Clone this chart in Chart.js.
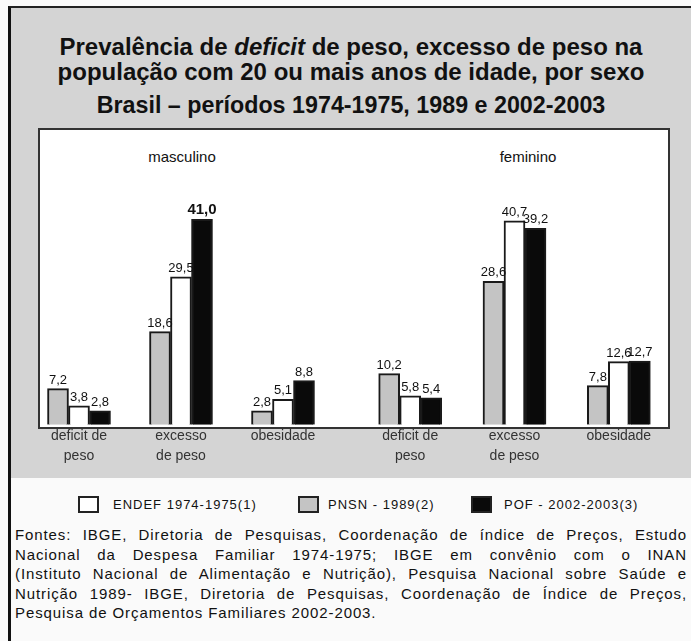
<!DOCTYPE html>
<html lang="pt">
<head>
<meta charset="utf-8">
<title>Prevalência de deficit de peso, excesso de peso e obesidade</title>
<script src="https://cdn.jsdelivr.net/npm/chart.js@4.4.1/dist/chart.umd.min.js"></script>
<style>
  body { margin: 0; width: 691px; height: 641px; background: #fafafa; position: relative; overflow: hidden;
         font-family: "Liberation Sans", Arial, sans-serif; color: #111; }
  .frame { position: absolute; left: 8px; top: 6px; right: 0; bottom: 0; border-left: 3px solid #111; border-top: 2px solid #222; }
  .gray { position: absolute; left: 0; top: 0; right: 0; height: 470px; background: #d4d4d4; }
  .title { position: absolute; left: 0; width: 702px; text-align: center; font-weight: bold; font-size: 24px;
           line-height: 26px; }
  .panel { position: absolute; left: 38px; top: 128px; width: 632px; height: 301px; box-sizing: border-box;
           background: #fff; border: 2px solid #333; }
  .chartbox { position: absolute; top: 124px; }
  .sexo { position: absolute; top: 148px; font-size: 15px; transform: translateX(-50%); }
  .leg { position: absolute; top: 496px; height: 17px; font-size: 13px; letter-spacing: 1px; line-height: 17px; }
  .leg i { position: absolute; left: 0; top: 0; width: 17px; height: 13px; border: 2px solid #222; }
  .leg span { position: absolute; white-space: nowrap; }
  .fontes { position: absolute; left: 15px; top: 525px; width: 672px; font-size: 15px; line-height: 19.5px; letter-spacing: 0.9px; }
  .fontes div { text-align: justify; text-align-last: justify; white-space: nowrap; }
  .fontes div:last-child { text-align-last: left; }
</style>
</head>
<body>
<div class="frame"><div class="gray"></div></div>

<div class="title" style="top:34px">Prevalência de <i>deficit</i> de peso, excesso de peso na</div>
<div class="title" style="top:59px">população com 20 ou mais anos de idade, por sexo</div>
<div class="title" style="top:92px; transform: scaleX(0.97)">Brasil – períodos 1974-1975, 1989 e 2002-2003</div>

<div class="panel"></div>
<div class="sexo" style="left:182px">masculino</div>
<div class="sexo" style="left:528px">feminino</div>
<div class="chartbox" style="left:28px"><canvas id="masc" width="306" height="344"></canvas></div>
<div class="chartbox" style="left:358px"><canvas id="fem" width="313" height="344"></canvas></div>

<div class="leg" style="left:78px"><i style="background:#fff"></i><span style="left:35px">ENDEF 1974-1975(1)</span></div>
<div class="leg" style="left:298px"><i style="background:#c4c4c4"></i><span style="left:30px">PNSN - 1989(2)</span></div>
<div class="leg" style="left:471px"><i style="background:#0a0a0a"></i><span style="left:33px">POF - 2002-2003(3)</span></div>

<div class="fontes">
  <div>Fontes: IBGE, Diretoria de Pesquisas, Coordenação de índice de Preços, Estudo</div>
  <div>Nacional da Despesa Familiar 1974-1975; IBGE em convênio com o INAN</div>
  <div>(Instituto Nacional de Alimentação e Nutrição), Pesquisa Nacional sobre Saúde e</div>
  <div>Nutrição 1989- IBGE, Diretoria de Pesquisas, Coordenação de Índice de Preços,</div>
  <div>Pesquisa de Orçamentos Familiares 2002-2003.</div>
</div>

<script>
// ===== DADOS =====
const categorias = [["deficit de", "peso"], ["excesso", "de peso"], ["obesidade"]];

// masculino
const mascEndef = [7.2, 18.6, 2.8];
const mascPnsn = [3.8, 29.5, 5.1];
const mascPof = [2.8, 41.0, 8.8];

// feminino
const femEndef = [10.2, 28.6, 7.8];
const femPnsn = [5.8, 40.7, 12.6];
const femPof = [5.4, 39.2, 12.7];

const yMax = 60;

// ===== RÓTULOS DE VALOR =====
const valueLabels = {
  id: "valueLabels",
  afterDatasetsDraw(chart) {
    const ctx = chart.ctx;
    ctx.save();
    ctx.fillStyle = "#111";
    ctx.textAlign = "center";
    ctx.textBaseline = "bottom";
    chart.data.datasets.forEach((ds, i) => {
      chart.getDatasetMeta(i).data.forEach((bar, j) => {
        // o maior valor aparece em destaque no original
        const big = ds.data[j] >= 41;
        ctx.font = (big ? "bold 15px" : "13px") + ' "Liberation Sans", Arial, sans-serif';
        ctx.fillText(ds.data[j].toFixed(1).replace(".", ","), bar.x, bar.y - 2);
      });
    });
    ctx.restore();
  }
};

function makeChart(id, endef, pnsn, pof) {
  const bar = { borderColor: "#1a1a1a", borderWidth: 2, barThickness: 21 };
  return new Chart(document.getElementById(id), {
    type: "bar",
    data: {
      labels: categorias,
      datasets: [
        { label: "ENDEF 1974-1975", data: endef, backgroundColor: "#c4c4c4", ...bar },
        { label: "PNSN - 1989", data: pnsn, backgroundColor: "#ffffff", ...bar },
        { label: "POF - 2002-2003", data: pof, backgroundColor: "#0a0a0a", ...bar }
      ]
    },
    options: {
      responsive: false,
      animation: false,
      layout: { padding: 0 },
      plugins: { legend: { display: false }, tooltip: { enabled: false } },
      scales: {
        x: {
          grid: { display: false, drawTicks: false },
          border: { display: false },
          ticks: {
            padding: 2, maxRotation: 0, autoSkip: false, color: "#333",
            font: { family: '"Liberation Sans", Arial, sans-serif', size: 14, lineHeight: 1.4 }
          }
        },
        y: { display: false, min: 0, max: yMax }
      }
    },
    plugins: [valueLabels]
  });
}

makeChart("masc", mascEndef, mascPnsn, mascPof);
makeChart("fem", femEndef, femPnsn, femPof);
</script>
</body>
</html>
